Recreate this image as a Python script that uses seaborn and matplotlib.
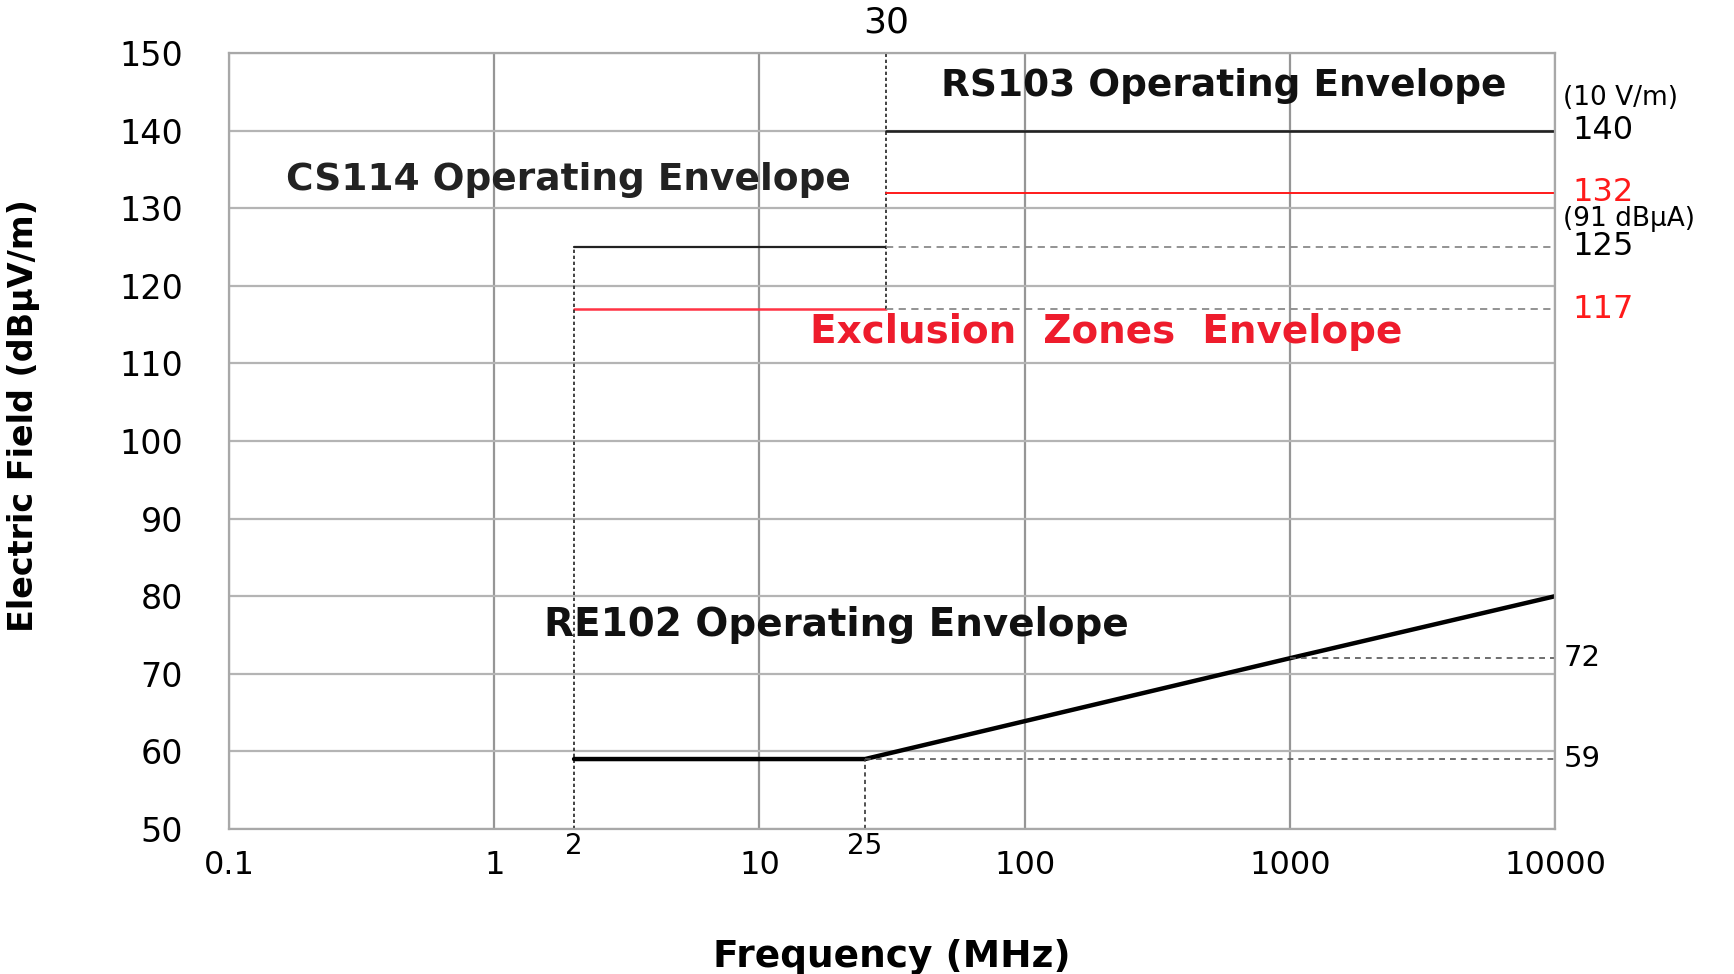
import matplotlib
matplotlib.use("Agg")
import matplotlib.pyplot as plt
import seaborn as sns

# MIL-STD-461 style envelopes (frequency in MHz, level in dBuV/m)
re102_freq = [2, 25, 1000, 10000]
re102_level = [59, 59, 72, 80]
cs114_freq = [2, 30]
cs114_limit = 125
cs114_excl = 117
rs103_freq = [30, 10000]
rs103_limit = 140
rs103_excl = 132

x_ticks = [0.1, 1, 10, 100, 1000, 10000]
x_tick_labels = ["0.1", "1", "10", "100", "1000", "10000"]
x_minor_ticks = [2, 25]
x_minor_labels = ["2", "25"]
y_ticks = list(range(50, 151, 10))

sns.set_style("white")
plt.rcParams['font.family'] = ['DejaVu Sans']
plt.rcParams['text.color'] = 'black'
plt.rcParams['axes.labelcolor'] = 'black'

GRID = '#a8a8a8'
RED = '#ff1a1a'
ANN = 27

fig, ax = plt.subplots(figsize=(17.34, 9.74), dpi=100)
fig.subplots_adjust(left=0.132, right=0.897, top=0.9456, bottom=0.149)

ax.set_xscale('log')
ax.set_xlim(0.1, 10000)
ax.set_ylim(50, 150)

# grid and axes
ax.yaxis.grid(True, which='major', color='#b4b4b4', lw=1.6)
ax.xaxis.grid(True, which='major', color='#969696', lw=1.6)
for s in ax.spines.values():
    s.set_color(GRID)
    s.set_linewidth(1.6)

ax.set_xticks(x_ticks)
ax.set_xticklabels(x_tick_labels)
ax.set_xticks(x_minor_ticks, minor=True)
ax.set_xticklabels(x_minor_labels, minor=True)
ax.set_yticks(y_ticks)
ax.set_yticks(list(range(50, 151, 2)), minor=True)

ax.tick_params(axis='x', which='major', direction='out', length=11, width=1.5,
               color=GRID, pad=4, labelsize=23, labelcolor='black')
ax.tick_params(axis='x', which='minor', length=0, pad=2, labelsize=20,
               labelcolor='black')
ax.tick_params(axis='y', which='major', direction='out', length=11, width=1.5,
               color=GRID, pad=22, labelsize=24, labelcolor='black')
ax.tick_params(axis='y', which='minor', direction='in', length=8, width=1.3,
               color=GRID)

# CS114 envelope
ax.plot(cs114_freq, [cs114_limit] * 2, color='#222222', lw=1.6)
ax.plot(cs114_freq, [cs114_excl] * 2, color='#ff3344', lw=1.8)
ax.vlines(cs114_freq[0], 50, cs114_limit, colors='#222222', lw=1.2, linestyles=(0, (2, 1.6)))
ax.vlines(cs114_freq[1], cs114_excl, 150, colors='#222222', lw=1.2, linestyles=(0, (2, 1.6)))

# RS103 envelope
ax.plot(rs103_freq, [rs103_limit] * 2, color='#222222', lw=1.9)
ax.plot(rs103_freq, [rs103_excl] * 2, color=RED, lw=1.4)
ax.hlines([cs114_limit, cs114_excl], rs103_freq[0], rs103_freq[1],
          colors='#8a8a8a', lw=1.3, linestyles=(0, (4, 3)))

# RE102 envelope
sns.lineplot(x=re102_freq, y=re102_level, ax=ax, color='black', lw=3.2)
ax.hlines(re102_level[1], re102_freq[1], re102_freq[-1], colors='#555555',
          lw=1.2, linestyles=(0, (3.5, 3)))
ax.hlines(re102_level[2], re102_freq[2], re102_freq[-1], colors='#555555',
          lw=1.2, linestyles=(0, (3.5, 3)))
ax.vlines(re102_freq[1], 50, re102_level[1], colors='#333333', lw=1.2,
          linestyles=(0, (2.5, 2)))

# annotations
ax.text(30, 1.039, "30", transform=ax.get_xaxis_transform(), ha='center',
        va='center', fontsize=26)
ax.text(0.750, 0.957, "RS103 Operating Envelope", transform=ax.transAxes,
        ha='center', va='center', fontsize=ANN, fontweight='bold', color='#111111')
ax.text(0.256, 0.836, "CS114 Operating Envelope", transform=ax.transAxes,
        ha='center', va='center', fontsize=ANN, fontweight='bold', color='#222222')
ax.text(0.661, 0.640, "Exclusion  Zones  Envelope", transform=ax.transAxes,
        ha='center', va='center', fontsize=ANN + 1, fontweight='bold', color='#ee1c2c')
ax.text(0.458, 0.263, "RE102 Operating Envelope", transform=ax.transAxes,
        ha='center', va='center', fontsize=ANN + 1, fontweight='bold', color='#111111')

# right-hand value labels
yt = ax.get_yaxis_transform()
ax.text(1.006, 144.2, "(10 V/m)", transform=yt, ha='left', va='center', fontsize=19)
ax.text(1.013, rs103_limit, str(rs103_limit), transform=yt, ha='left', va='center', fontsize=23)
ax.text(1.013, rs103_excl, str(rs103_excl), transform=yt, ha='left', va='center',
        fontsize=23, color=RED)
ax.text(1.006, 128.6, "(91 dBμA)", transform=yt, ha='left', va='center', fontsize=19)
ax.text(1.013, cs114_limit, str(cs114_limit), transform=yt, ha='left', va='center', fontsize=23)
ax.text(1.013, cs114_excl, str(cs114_excl), transform=yt, ha='left', va='center',
        fontsize=23, color=RED)
ax.text(1.006, re102_level[2], str(re102_level[2]), transform=yt, ha='left',
        va='center', fontsize=21)
ax.text(1.006, re102_level[1], str(re102_level[1]), transform=yt, ha='left',
        va='center', fontsize=21)

ax.set_xlabel("Frequency (MHz)", fontsize=27, fontweight='bold')
ax.xaxis.set_label_coords(0.5, -0.142)
ax.set_ylabel("Electric Field (dBμV/m)", fontsize=24, fontweight='bold')
ax.yaxis.set_label_coords(-0.1425, 0.533)

fig.savefig("out.png", dpi=100)
